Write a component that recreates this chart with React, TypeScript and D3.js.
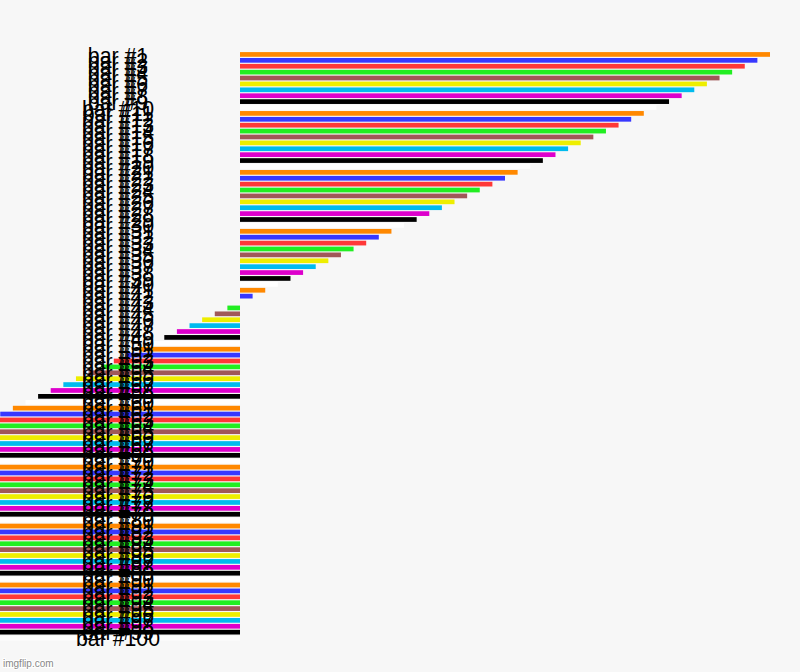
import React, { useEffect, useRef } from 'react';
import * as d3 from 'd3';

const categories = [
  'bar #1', 'bar #2', 'bar #3', 'bar #4', 'bar #5', 'bar #6', 'bar #7', 'bar #8', 'bar #9', 'bar #10',
  'bar #11', 'bar #12', 'bar #13', 'bar #14', 'bar #15', 'bar #16', 'bar #17', 'bar #18', 'bar #19', 'bar #20',
  'bar #21', 'bar #22', 'bar #23', 'bar #24', 'bar #25', 'bar #26', 'bar #27', 'bar #28', 'bar #29', 'bar #30',
  'bar #31', 'bar #32', 'bar #33', 'bar #34', 'bar #35', 'bar #36', 'bar #37', 'bar #38', 'bar #39', 'bar #40',
  'bar #41', 'bar #42', 'bar #43', 'bar #44', 'bar #45', 'bar #46', 'bar #47', 'bar #48', 'bar #49', 'bar #50',
  'bar #51', 'bar #52', 'bar #53', 'bar #54', 'bar #55', 'bar #56', 'bar #57', 'bar #58', 'bar #59', 'bar #60',
  'bar #61', 'bar #62', 'bar #63', 'bar #64', 'bar #65', 'bar #66', 'bar #67', 'bar #68', 'bar #69', 'bar #70',
  'bar #71', 'bar #72', 'bar #73', 'bar #74', 'bar #75', 'bar #76', 'bar #77', 'bar #78', 'bar #79', 'bar #80',
  'bar #81', 'bar #82', 'bar #83', 'bar #84', 'bar #85', 'bar #86', 'bar #87', 'bar #88', 'bar #89', 'bar #90',
  'bar #91', 'bar #92', 'bar #93', 'bar #94', 'bar #95', 'bar #96', 'bar #97', 'bar #98', 'bar #99', 'bar #100',
];

const values = [
  42, 41, 40, 39, 38, 37, 36, 35, 34, 33,
  32, 31, 30, 29, 28, 27, 26, 25, 24, 23,
  22, 21, 20, 19, 18, 17, 16, 15, 14, 13,
  12, 11, 10, 9, 8, 7, 6, 5, 4, 3,
  2, 1, 0, -1, -2, -3, -4, -5, -6, -7,
  -8, -9, -10, -11, -12, -13, -14, -15, -16, -17,
  -18, -19, -20, -21, -22, -23, -24, -25, -26, -27,
  -28, -29, -30, -31, -32, -33, -34, -35, -36, -37,
  -38, -39, -40, -41, -42, -43, -44, -45, -46, -47,
  -48, -49, -50, -51, -52, -53, -54, -55, -56, -57,
];

const palette = [
  '#ff8800', '#3838ff', '#ff3838', '#22ee22', '#a05858',
  '#eeee00', '#00bbee', '#dd00cc', '#000000', '#ffffff',
];

export default function App() {
  const svgRef = useRef<SVGSVGElement>(null);

  useEffect(() => {
    if (!svgRef.current) return;
    d3.select(svgRef.current).selectAll('*').remove();

    const width = 800;
    const height = 672;
    const svg = d3.select(svgRef.current)
      .attr('width', width)
      .attr('height', height);

    svg.append('rect')
      .attr('width', width)
      .attr('height', height)
      .attr('fill', '#f7f7f7');

    const x = d3.scaleLinear().domain([0, 42]).range([240, 770]);
    const y = d3.scaleBand<string>()
      .domain(categories)
      .range([51.5, 641])
      .paddingInner(0.2)
      .paddingOuter(0.1);

    const data = categories.map((c, i) => ({ name: c, value: values[i], color: palette[i % palette.length] }));

    // 막대
    svg.append('g')
      .selectAll('rect')
      .data(data)
      .enter()
      .append('rect')
      .attr('x', d => Math.min(x(d.value), x(0)))
      .attr('y', d => y(d.name) as number)
      .attr('width', d => Math.abs(x(d.value) - x(0)))
      .attr('height', y.bandwidth())
      .attr('fill', d => d.color);

    // 라벨
    svg.append('g')
      .selectAll('text')
      .data(data)
      .enter()
      .append('text')
      .attr('x', 118)
      .attr('y', d => (y(d.name) as number) + y.bandwidth() / 2)
      .attr('dy', '0.38em')
      .attr('text-anchor', 'middle')
      .attr('font-family', '"Liberation Sans", Arial, sans-serif')
      .attr('font-size', 21.3)
      .attr('fill', '#000')
      .text(d => d.name);

    // 워터마크
    svg.append('text')
      .attr('x', 3)
      .attr('y', 667)
      .attr('font-family', '"Liberation Sans", Arial, sans-serif')
      .attr('font-size', 10)
      .attr('fill', '#888888')
      .attr('stroke', '#ffffff')
      .attr('stroke-width', 2)
      .attr('paint-order', 'stroke')
      .text('imgflip.com');
  }, []);

  return (
    <svg ref={svgRef} style={{ position: 'absolute', top: 0, left: 0, display: 'block' }}></svg>
  );
}
